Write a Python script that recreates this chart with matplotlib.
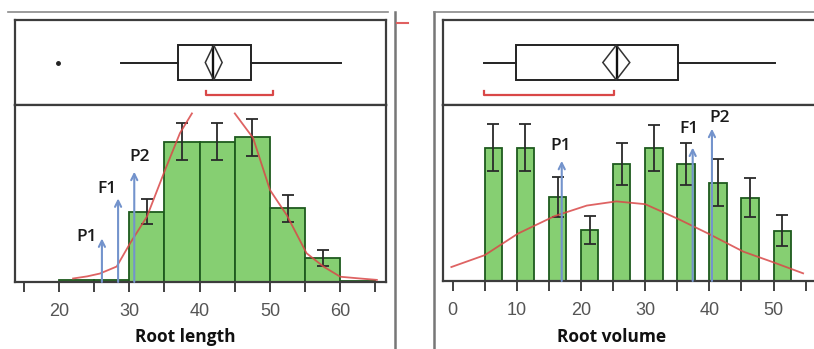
import numpy as np
import matplotlib.pyplot as plt
from matplotlib.lines import Line2D

# ---- datos ----
# Root length: histograma (bordes cada 5), barras de error y curva normal
len_edges = [20, 25, 30, 35, 40, 45, 50, 55, 60]
len_counts = [0.3, 0.3, 10.0, 20.0, 20.0, 20.6, 10.5, 3.4, 0.2]
len_err = [0, 0, 1.8, 2.6, 2.6, 2.6, 1.9, 1.1, 0]
# la curva sale del panel entre ~39 y ~45 (tramo no dibujado -> nan)
len_curve_x = [22.0, 24.0, 25.8, 28.2, 30.1, 32.5, 35.1, 37.2, 38.9, 42.0,
               45.0, 47.6, 50.0, 52.4, 55.2, 57.6, 60.0, 62.8, 65.2]
len_curve_y = [0.5, 0.8, 1.2, 2.2, 5.5, 9.3, 16.0, 21.2, 24.0, np.nan,
               24.0, 20.5, 13.1, 9.5, 4.1, 2.2, 0.75, 0.5, 0.3]
len_box = dict(whislo=28.8, q1=36.9, med=41.9, q3=47.3, whishi=60.1, fliers=[19.9])
len_mean_ci = [40.8, 42.0, 43.2]
len_short_half = [40.9, 50.4]
len_arrow_x = [26.1, 28.4, 30.7]
len_arrow_h = [6.2, 11.9, 15.7]

# Root volume
vol_left = [5, 10, 15, 20, 25, 30, 35, 40, 45, 50]
vol_counts = [19.1, 19.1, 12.0, 7.3, 16.8, 19.1, 16.8, 14.1, 11.9, 7.2]
vol_err = [3.4, 3.4, 2.9, 2.0, 3.0, 3.3, 3.0, 3.4, 2.8, 2.2]
vol_curve_x = [-0.2, 5.0, 10.2, 15.9, 20.9, 25.5, 30.0, 35.1, 39.8, 45.3, 49.9, 54.6]
vol_curve_y = [2.0, 3.7, 6.8, 9.3, 10.8, 11.4, 11.0, 8.9, 6.8, 4.2, 2.7, 1.1]
vol_box = dict(whislo=4.9, q1=9.9, med=25.6, q3=35.1, whishi=50.2, fliers=[])
vol_mean_ci = [23.4, 25.5, 27.6]
vol_short_half = [4.9, 25.2]
vol_arrow_x = [17.0, 37.4, 40.4]
vol_arrow_h = [17.2, 19.1, 21.8]

arrow_labels = ["P1", "F1", "P2"]

GREEN = "#86cf72"
DKGREEN = "#1e5a1e"
RED = "#d94848"
BLUE = "#7393cc"
FRAME = "#3c3c3c"

W, H = 814, 349
fig = plt.figure(figsize=(8.14, 3.49), dpi=100)


def rect(x0, y0, x1, y1):
    return [x0 / W, 1 - y1 / H, (x1 - x0) / W, (y1 - y0) / H]


def top_panel(ax, box, mci, short, xlim, hide_right=False):
    ax.bxp([box], positions=[0.5], widths=0.41, orientation="horizontal",
           showcaps=False, patch_artist=True,
           boxprops=dict(facecolor="white", edgecolor="#222", lw=1.4),
           whiskerprops=dict(color="#222", lw=1.4),
           medianprops=dict(color="#111", lw=1.7),
           flierprops=dict(marker="o", markersize=2.5, markerfacecolor="#222",
                           markeredgecolor="#222"))
    ax.fill([mci[0], mci[1], mci[2], mci[1]], [0.5, 0.705, 0.5, 0.295],
            facecolor="none", edgecolor="#333", lw=1.1, zorder=4)
    ax.plot([short[0], short[0], short[1], short[1]], [0.17, 0.118, 0.118, 0.17],
            color=RED, lw=1.6)
    ax.set_xlim(*xlim)
    ax.set_ylim(0, 1)
    ax.set_xticks([])
    ax.set_yticks([])
    for s in ax.spines.values():
        s.set_color(FRAME)
        s.set_linewidth(1.6)
    if hide_right:
        ax.spines["right"].set_visible(False)


def bottom_panel(ax, xlim, hide_right=False):
    ax.set_xlim(*xlim)
    ax.set_ylim(0, 25.2)
    ax.set_yticks([])
    for s in ax.spines.values():
        s.set_color(FRAME)
        s.set_linewidth(1.6)
    if hide_right:
        ax.spines["right"].set_visible(False)
    ax.tick_params(axis="x", which="both", length=7, width=1.3, color="#333",
                   labelsize=13, labelcolor="#555", pad=8)
    for lab in ax.get_xticklabels():
        lab.set_family("Liberation Sans")


def arrows(ax, xs, hs, lab_pos):
    for x, h, lab, (lx, ly) in zip(xs, hs, arrow_labels, lab_pos):
        ax.annotate("", xy=(x, h), xytext=(x, 0),
                    arrowprops=dict(arrowstyle="->", color=BLUE, lw=1.5,
                                    mutation_scale=11, shrinkA=0, shrinkB=0),
                    zorder=6)
        ax.text(lx, ly, lab, ha="center", va="center", fontsize=12.5,
                family="Open Sans", fontweight="semibold", color="#1a1a1a",
                zorder=7)


# ---------------- Root length ----------------
xl = (13.74, 66.5)
axt1 = fig.add_axes(rect(15, 20, 386, 105))
top_panel(axt1, len_box, len_mean_ci, len_short_half, xl)

ax1 = fig.add_axes(rect(15, 105, 386, 282))
ax1.bar(len_edges, len_counts, width=5, align="edge", color=GREEN,
        edgecolor=DKGREEN, lw=1.3, zorder=2)
cx = [e + 2.5 for e, er in zip(len_edges, len_err) if er > 0]
cy = [c for c, er in zip(len_counts, len_err) if er > 0]
ce = [er for er in len_err if er > 0]
ax1.errorbar(cx, cy, yerr=ce, fmt="none", ecolor="#2a2a2a", elinewidth=1.3,
             capsize=4, capthick=1.3, zorder=3)
ax1.plot(len_curve_x, len_curve_y, color=RED, lw=1.3, alpha=0.85, zorder=4)
ax1.set_xticks(range(20, 61, 10))
ax1.set_xticks(range(15, 66, 10), minor=True)
bottom_panel(ax1, xl)
arrows(ax1, len_arrow_x, len_arrow_h, [(24.0, 6.4), (26.8, 13.2), (31.5, 17.8)])

# ---------------- Root volume ----------------
xv = (-1.5, 56.3)
axt2 = fig.add_axes(rect(443, 20, 814, 105))
top_panel(axt2, vol_box, vol_mean_ci, vol_short_half, xv, hide_right=True)

ax2 = fig.add_axes(rect(443, 105, 814, 281))
ax2.bar(vol_left, vol_counts, width=2.7, align="edge", color=GREEN,
        edgecolor=DKGREEN, lw=1.3, zorder=2)
ax2.errorbar([v + 1.35 for v in vol_left], vol_counts, yerr=vol_err, fmt="none",
             ecolor="#2a2a2a", elinewidth=1.3, capsize=4, capthick=1.3, zorder=3)
ax2.plot(vol_curve_x, vol_curve_y, color=RED, lw=1.3, alpha=0.85, zorder=4)
ax2.set_xticks(range(0, 51, 10))
ax2.set_xticks(range(5, 56, 10), minor=True)
bottom_panel(ax2, xv, hide_right=True)
arrows(ax2, vol_arrow_x, vol_arrow_h, [(16.8, 19.4), (36.8, 21.7), (41.6, 23.4)])

# axis titles
fig.text(185.5 / W, 1 - 337 / H, "Root length", ha="center", va="center",
         fontsize=12.5, fontweight="bold", family="Open Sans", color="#111")
fig.text(612 / W, 1 - 337 / H, "Root volume", ha="center", va="center",
         fontsize=12.5, fontweight="bold", family="Open Sans", color="#111")

# marcos externos grises
fig.add_artist(Line2D([8 / W, 388 / W], [1 - 11.5 / H] * 2, color="#8a8a8a", lw=1.2))
fig.add_artist(Line2D([395 / W] * 2, [0, 1 - 11.5 / H], color="#777", lw=1.8))
fig.add_artist(Line2D([434 / W] * 2, [0, 1 - 12 / H], color="#777", lw=1.8))
fig.add_artist(Line2D([434 / W, 1], [1 - 12 / H] * 2, color="#8a8a8a", lw=1.2))
fig.add_artist(Line2D([397 / W, 408 / W], [1 - 23 / H] * 2, color="#e06060", lw=1.5))

fig.savefig("out.png", dpi=100)
